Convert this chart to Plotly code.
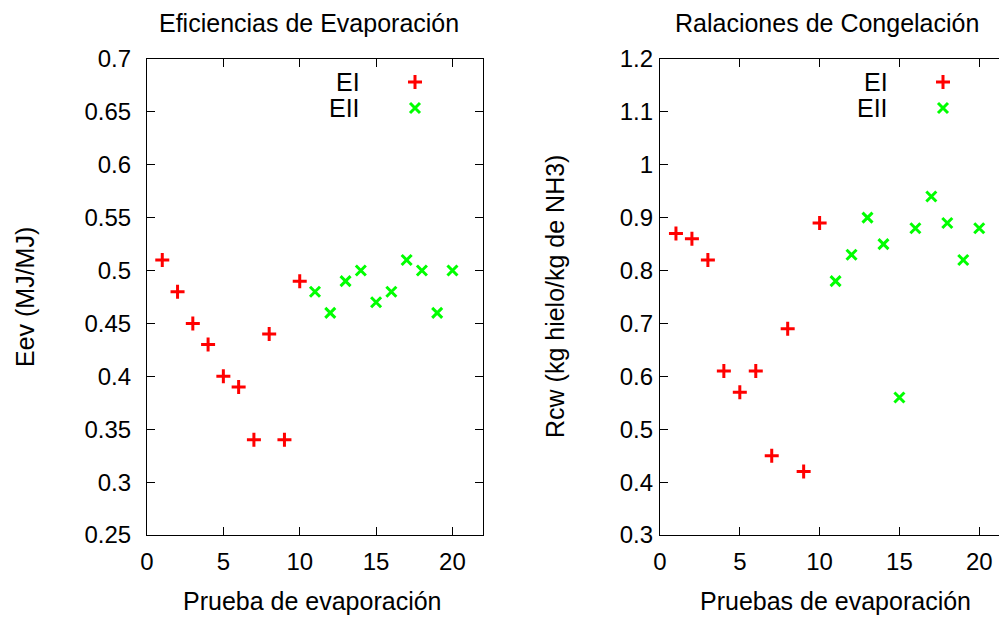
import plotly.graph_objects as go

# ---- data ----
x_ei = [1, 2, 3, 4, 5, 6, 7, 8, 9, 10]
x_eii = [11, 12, 13, 14, 15, 16, 17, 18, 19, 20]
eev_ei = [0.51, 0.48, 0.45, 0.43, 0.40, 0.39, 0.34, 0.44, 0.34, 0.49]
eev_eii = [0.48, 0.46, 0.49, 0.50, 0.47, 0.48, 0.51, 0.50, 0.46, 0.50]
rcw_ei = [0.87, 0.86, 0.82, 0.61, 0.57, 0.61, 0.45, 0.69, 0.42, 0.89]
rcw_eii = [0.78, 0.83, 0.90, 0.85, 0.56, 0.88, 0.94, 0.89, 0.82, 0.88]
series_names = ["EI", "EII"]
left_yticks = [0.25, 0.3, 0.35, 0.4, 0.45, 0.5, 0.55, 0.6, 0.65, 0.7]
left_yticklabels = ["0.25", "0.3", "0.35", "0.4", "0.45", "0.5", "0.55", "0.6", "0.65", "0.7"]
right_yticks = [0.3, 0.4, 0.5, 0.6, 0.7, 0.8, 0.9, 1.0, 1.1, 1.2]
right_yticklabels = ["0.3", "0.4", "0.5", "0.6", "0.7", "0.8", "0.9", "1", "1.1", "1.2"]
xticks = [0, 5, 10, 15, 20]

# page body has an 8px margin: the figure is sized/positioned to compensate
OFF = 8
W, H = 1007 - OFF, 617 - OFF
FONT = "Liberation Sans, Arial, sans-serif"
FS = 24
FS_T = 25
RED = "#ff0000"
GREEN = "#00ff00"

# panel geometry (screen pixels of the reference)
TOP, BOTTOM = 59, 535
L1, R1 = 147, 483
L2, R2 = 660, 1007
XR1 = [0, 22]
YR1 = [0.25, 0.7]
XR2 = [0, 21.74]
YR2 = [0.3, 1.2]


def px(xp):
    return (xp - OFF) / W


def py(yp):
    return 1 - (yp - OFF) / H


def to_data(xp, yp, left, right, xr, yr):
    xd = xr[0] + (xp - left) / (right - left) * (xr[1] - xr[0])
    yd = yr[0] + (BOTTOM - yp) / (BOTTOM - TOP) * (yr[1] - yr[0])
    return xd, yd


ei_marker = dict(symbol="cross-thin-open", size=10, line=dict(color=RED, width=3), color=RED)
eii_marker = dict(symbol="x-thin-open", size=10, line=dict(color=GREEN, width=3), color=GREEN)

fig = go.Figure()
fig.add_trace(go.Scatter(x=x_ei, y=eev_ei, mode="markers", marker=ei_marker, xaxis="x", yaxis="y", name=series_names[0]))
fig.add_trace(go.Scatter(x=x_eii, y=eev_eii, mode="markers", marker=eii_marker, xaxis="x", yaxis="y", name=series_names[1]))
fig.add_trace(go.Scatter(x=x_ei, y=rcw_ei, mode="markers", marker=ei_marker, xaxis="x2", yaxis="y2", name=series_names[0]))
fig.add_trace(go.Scatter(x=x_eii, y=rcw_eii, mode="markers", marker=eii_marker, xaxis="x2", yaxis="y2", name=series_names[1]))

# legend keys (gnuplot style: label then sample)
for (xa, ya, left, right, xr, yr) in [("x", "y", L1, R1, XR1, YR1), ("x2", "y2", L2, R2, XR2, YR2)]:
    kx = 415 if xa == "x" else 943
    for yp, mk in [(82, ei_marker), (108, eii_marker)]:
        xd, yd = to_data(kx, yp, left, right, xr, yr)
        fig.add_trace(go.Scatter(x=[xd], y=[yd], mode="markers", marker=mk, xaxis=xa, yaxis=ya,
                                 cliponaxis=False))

ydom = [py(BOTTOM), py(TOP)]
common = dict(ticks="inside", ticklen=8, tickwidth=1, tickcolor="black", showgrid=False, zeroline=False,
              showline=True, linecolor="black", linewidth=1.2, automargin=False,
              tickfont=dict(family=FONT, size=FS, color="black"))

fig.update_layout(
    width=W, height=H, autosize=False, margin=dict(l=0, r=0, t=0, b=0, pad=0, autoexpand=False),
    paper_bgcolor="white", plot_bgcolor="white", showlegend=False,
    xaxis=dict(domain=[px(L1), px(R1)], range=XR1, tickvals=xticks, mirror="ticks", anchor="y",
               ticklabelstandoff=5, **common),
    yaxis=dict(domain=ydom, range=YR1, tickvals=left_yticks, ticktext=left_yticklabels,
               mirror="ticks", anchor="x", ticklabelstandoff=10, **common),
    xaxis2=dict(domain=[px(L2), 1.0], range=XR2, tickvals=xticks, mirror="ticks", anchor="y2",
                ticklabelstandoff=5, **common),
    yaxis2=dict(domain=ydom, range=YR2, tickvals=right_yticks, ticktext=right_yticklabels,
                mirror=False, anchor="x2", ticklabelstandoff=1, **common),
    yaxis3=dict(overlaying="y2", side="right", anchor="x2", range=YR2, tickvals=right_yticks,
                showticklabels=False, ticks="inside", ticklen=4, tickcolor="black", showgrid=False,
                zeroline=False, showline=False, automargin=False),
)

ann_font = dict(family=FONT, size=FS_T, color="black")
annotations = [
    dict(text="Eficiencias de Evaporación", x=px(309), y=py(23)),
    dict(text="Ralaciones de Congelación", x=px(827), y=py(23)),
    dict(text="Prueba de evaporación", x=px(312), y=py(601)),
    dict(text="Pruebas de evaporación", x=px(835), y=py(601)),
    dict(text="Eev (MJ/MJ)", x=px(25), y=py(297), textangle=-90),
    dict(text="Rcw (kg hielo/kg de NH3)", x=px(555), y=py(297), textangle=-90),
]
for a in annotations:
    fig.add_annotation(xref="paper", yref="paper", showarrow=False, font=ann_font,
                       xanchor="center", yanchor="middle", **a)

for name, xr, yr in [(series_names[0], 362, 82), (series_names[1], 362, 108),
                     (series_names[0], 890, 82), (series_names[1], 890, 108)]:
    fig.add_annotation(xref="paper", yref="paper", showarrow=False, font=ann_font,
                       text=name, x=px(xr), y=py(yr), xanchor="right", yanchor="middle")

fig.write_html("out.html", config={"responsive": False, "displayModeBar": False})
